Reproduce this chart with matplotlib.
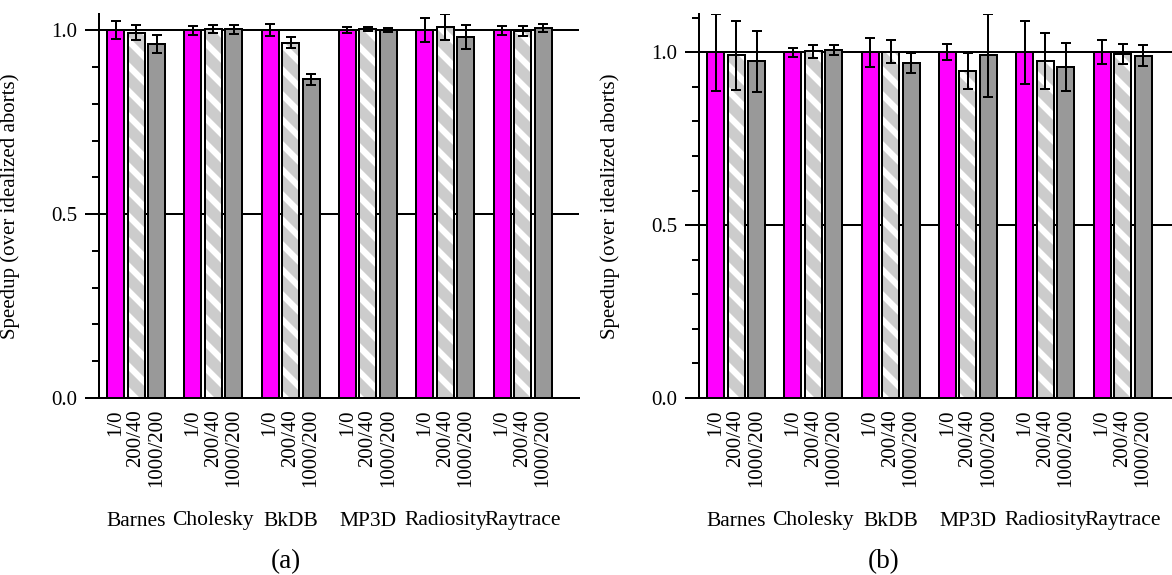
import numpy as np
import matplotlib
matplotlib.use("Agg")
import matplotlib.pyplot as plt
from matplotlib.ticker import MultipleLocator

benchmarks = ["Barnes", "Cholesky", "BkDB", "MP3D", "Radiosity", "Raytrace"]
configs = ["1/0", "200/40", "1000/200"]

# panel (a)
a_1_0 = [1.0, 1.0, 1.0, 1.0, 1.0, 1.0]
a_200_40 = [0.993, 1.003, 0.966, 1.003, 1.008, 0.998]
a_1000_200 = [0.962, 1.002, 0.867, 1.0, 0.981, 1.005]
a_err_1_0 = [0.024, 0.012, 0.017, 0.008, 0.033, 0.012]
a_err_200_40 = [0.02, 0.012, 0.015, 0.006, 0.036, 0.013]
a_err_1000_200 = [0.025, 0.012, 0.015, 0.005, 0.032, 0.011]

# panel (b)
b_1_0 = [1.0, 1.0, 1.0, 1.0, 1.0, 1.0]
b_200_40 = [0.991, 1.003, 1.002, 0.945, 0.975, 0.995]
b_1000_200 = [0.974, 1.006, 0.969, 0.991, 0.958, 0.990]
b_err_1_0 = [0.111, 0.012, 0.042, 0.023, 0.092, 0.035]
b_err_200_40 = [0.10, 0.018, 0.033, 0.052, 0.082, 0.03]
b_err_1000_200 = [0.088, 0.014, 0.03, 0.119, 0.069, 0.03]

plt.rcParams['font.family'] = ['Liberation Serif', 'DejaVu Serif']
plt.rcParams['hatch.linewidth'] = 5.5
plt.rcParams['hatch.color'] = '#cccccc'

DPI = 150
px = 72.0 / DPI  # one pixel in points
W, H = 1172, 575

fig = plt.figure(figsize=(W / DPI, H / DPI), dpi=DPI)

pitch = 0.265
bw = 0.22
lw = 2.0 * px


def panel(ax, vals, errs, tag, tag_x):
    g = np.arange(len(benchmarks))
    ax.axhline(0.5, color='black', lw=lw, zorder=0)
    ax.axhline(1.0, color='black', lw=lw, zorder=0)
    xs_all = []
    for i in range(3):
        x = g + (i - 1) * pitch
        xs_all.append(x)
        if i == 0:
            ax.bar(x, vals[i], bw, color='#ff00ff', edgecolor='black',
                   lw=lw, zorder=2)
        elif i == 1:
            ax.bar(x, vals[i], bw, color='white', edgecolor='#cccccc',
                   hatch='\\\\', lw=0, zorder=2)
            ax.bar(x, vals[i], bw, fill=False, edgecolor='black',
                   lw=lw, zorder=2.5)
        else:
            ax.bar(x, vals[i], bw, color='#999999', edgecolor='black',
                   lw=lw, zorder=2)
        ax.errorbar(x, vals[i], yerr=errs[i], fmt='none', ecolor='black',
                    elinewidth=lw, capsize=5 * px, capthick=lw, zorder=3)
    top = max(np.max(np.array(v) + np.array(e)) for v, e in zip(vals, errs))
    ax.set_ylim(0, top)
    ax.set_xlim(-0.479, 5.73)

    ticks = np.sort(np.concatenate(xs_all))
    labels = [configs[i] for _ in benchmarks for i in range(3)]
    ax.set_xticks(ticks)
    ax.set_xticklabels(labels, rotation=90, fontsize=10)
    ax.tick_params(axis='x', length=0, pad=11 * px)

    ax.set_yticks([0.0, 0.5, 1.0])
    ax.set_yticklabels(["0.0", "0.5", "1.0"], fontsize=10)
    ax.yaxis.set_minor_locator(MultipleLocator(0.1))
    ax.tick_params(axis='y', which='major', direction='out', length=14 * px,
                   width=lw, pad=8 * px)
    ax.tick_params(axis='y', which='minor', direction='out', length=7 * px,
                   width=lw)
    ax.set_ylabel("Speedup (over idealized aborts)", fontsize=10)
    ax.yaxis.set_label_coords(-0.165, 0.5)

    for s in ['top', 'right']:
        ax.spines[s].set_visible(False)
    for s in ['left', 'bottom']:
        ax.spines[s].set_linewidth(lw)

    tr = ax.get_xaxis_transform()
    yl = (398 - 521) / 384.0
    for k, name in enumerate(benchmarks):
        ax.text(k, yl, name, transform=tr, ha='center', va='center',
                fontsize=10.3)
    fig.text(tag_x / W, 1 - 562 / H, tag, ha='center', va='center',
             fontsize=13)


ax1 = fig.add_axes([99 / W, 1 - 398 / H, 480 / W, 384 / H])
panel(ax1, [a_1_0, a_200_40, a_1000_200],
      [a_err_1_0, a_err_200_40, a_err_1000_200], "(a)", 286)

ax2 = fig.add_axes([699 / W, 1 - 398 / H, 480 / W, 384 / H])
panel(ax2, [b_1_0, b_200_40, b_1000_200],
      [b_err_1_0, b_err_200_40, b_err_1000_200], "(b)", 884)

fig.savefig("out.png", dpi=DPI)
